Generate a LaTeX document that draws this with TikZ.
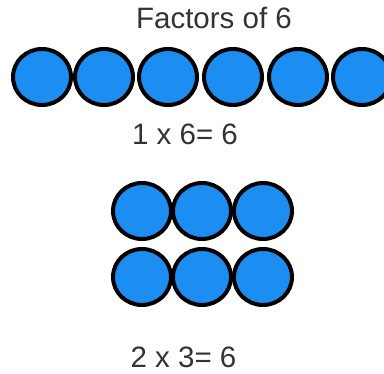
\documentclass[tikz,border=0pt]{standalone}
\usepackage{fontspec}
\setmainfont{Liberation Sans}
\usetikzlibrary{positioning,shapes.geometric}
\definecolor{ink}{HTML}{333333}
\definecolor{counterblue}{HTML}{1C8EF2}

\begin{document}
\begin{tikzpicture}[x=1pt,y=-1pt,
  counter/.style={ellipse,draw=black,line width=4pt,fill=counterblue,minimum width=58pt,minimum height=56pt,inner sep=0pt},
  sumtext/.style={anchor=base,inner sep=0pt,text=ink,font=\fontsize{29.5}{32}\selectfont}]
  \useasboundingbox (0,0) rectangle (384,374);
  \node[sumtext] (title) at (214,29) {Factors of 6};
  % one row of six
  \foreach \i/\x in {1/42,2/104,3/168,4/233,5/298,6/362}{
    \node[counter] (row\i) at (\x,77) {};
  }
  \node[sumtext] (oneline) at (185,145) {1 x 6= 6};
  % two rows of three
  \foreach \i/\x in {1/142,2/202,3/263}{
    \node[counter] (top\i) at (\x,211) {};
    \node[counter] (bot\i) at (\x,277) {};
  }
  \node[sumtext] (grid) at (183.5,368) {2 x 3= 6};
\end{tikzpicture}
\end{document}
